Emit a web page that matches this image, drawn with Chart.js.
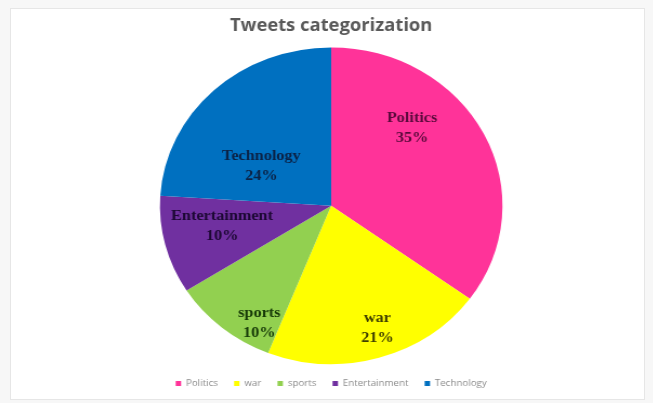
<!DOCTYPE html>
<html>
<head>
<meta charset="utf-8" />
<title>Tweets categorization</title>
<script src="https://cdn.jsdelivr.net/npm/chart.js@4.4.0/dist/chart.umd.min.js"></script>
<style>
	body { margin: 0; padding: 0; background: #f7f7f7; }
	#frame { position: absolute; left: 10px; top: 8px; width: 633px; height: 390px; background: #fff; border: 1px solid #e6e6e6; }
	/* the source picture is stretched a little sideways */
	#wrap { position: absolute; left: 12px; top: 8px; width: 590px; height: 390px; transform: scaleX(1.082); transform-origin: 0 0; }
</style>
</head>
<body>
<div id="frame"></div>
<div id="wrap"><canvas id="chart"></canvas></div>
<script>

var categories = ['Politics', 'war', 'sports', 'Entertainment', 'Technology'];
var shares = [35, 21, 10, 10, 24];
var sliceColors = ['#ff3399', '#ffff00', '#92d050', '#7030a0', '#0070c0'];
var labelColors = ['#5a0a3c', '#3f3f00', '#173a08', '#1c0833', '#0b2245'];
// where the label sits inside its slice (share of radius, turn from mid angle in degrees)
var labelRadius = [0.68, 0.82, 0.85, 0.65, 0.48];
var labelTurn = [-19, -3, -10, 3, -15];

var sliceLabels = {
	id: 'sliceLabels',
	afterDatasetsDraw: function (chart) {
		var ctx = chart.ctx;
		var meta = chart.getDatasetMeta(0);
		ctx.save();
		ctx.font = 'bold 15px "Liberation Serif", "Times New Roman", serif';
		ctx.textAlign = 'center';
		ctx.textBaseline = 'middle';
		meta.data.forEach(function (arc, i) {
			var p = arc.getProps(['x', 'y', 'startAngle', 'endAngle', 'outerRadius'], true);
			var mid = (p.startAngle + p.endAngle) / 2 + labelTurn[i] * Math.PI / 180;
			var r = p.outerRadius * labelRadius[i];
			var x = p.x + Math.cos(mid) * r;
			var y = p.y + Math.sin(mid) * r;
			ctx.fillStyle = labelColors[i];
			ctx.fillText(categories[i], x, y - 10);
			ctx.fillText(shares[i] + '%', x, y + 10);
		});
		ctx.restore();
	}
};

new Chart(document.getElementById('chart'), {
	type: 'pie',
	data: {
		labels: categories,
		datasets: [{
			data: shares,
			backgroundColor: sliceColors,
			borderWidth: 0
		}]
	},
	plugins: [sliceLabels],
	options: {
		responsive: true,
		maintainAspectRatio: false,
		animation: false,
		layout: { padding: { top: 4, bottom: 0 } },
		plugins: {
			title: {
				display: true,
				text: 'Tweets categorization',
				color: '#595959',
				font: { family: '"Open Sans", sans-serif', size: 17, weight: 'bold' },
				padding: { top: 4, bottom: 11 }
			},
			legend: {
				position: 'bottom',
				labels: {
					color: '#8c8c8c',
					boxWidth: 5,
					boxHeight: 5,
					padding: 15,
					font: { family: '"Open Sans", sans-serif', size: 9 }
				}
			},
			tooltip: { enabled: false }
		}
	}
});

</script>
</body>
</html>
